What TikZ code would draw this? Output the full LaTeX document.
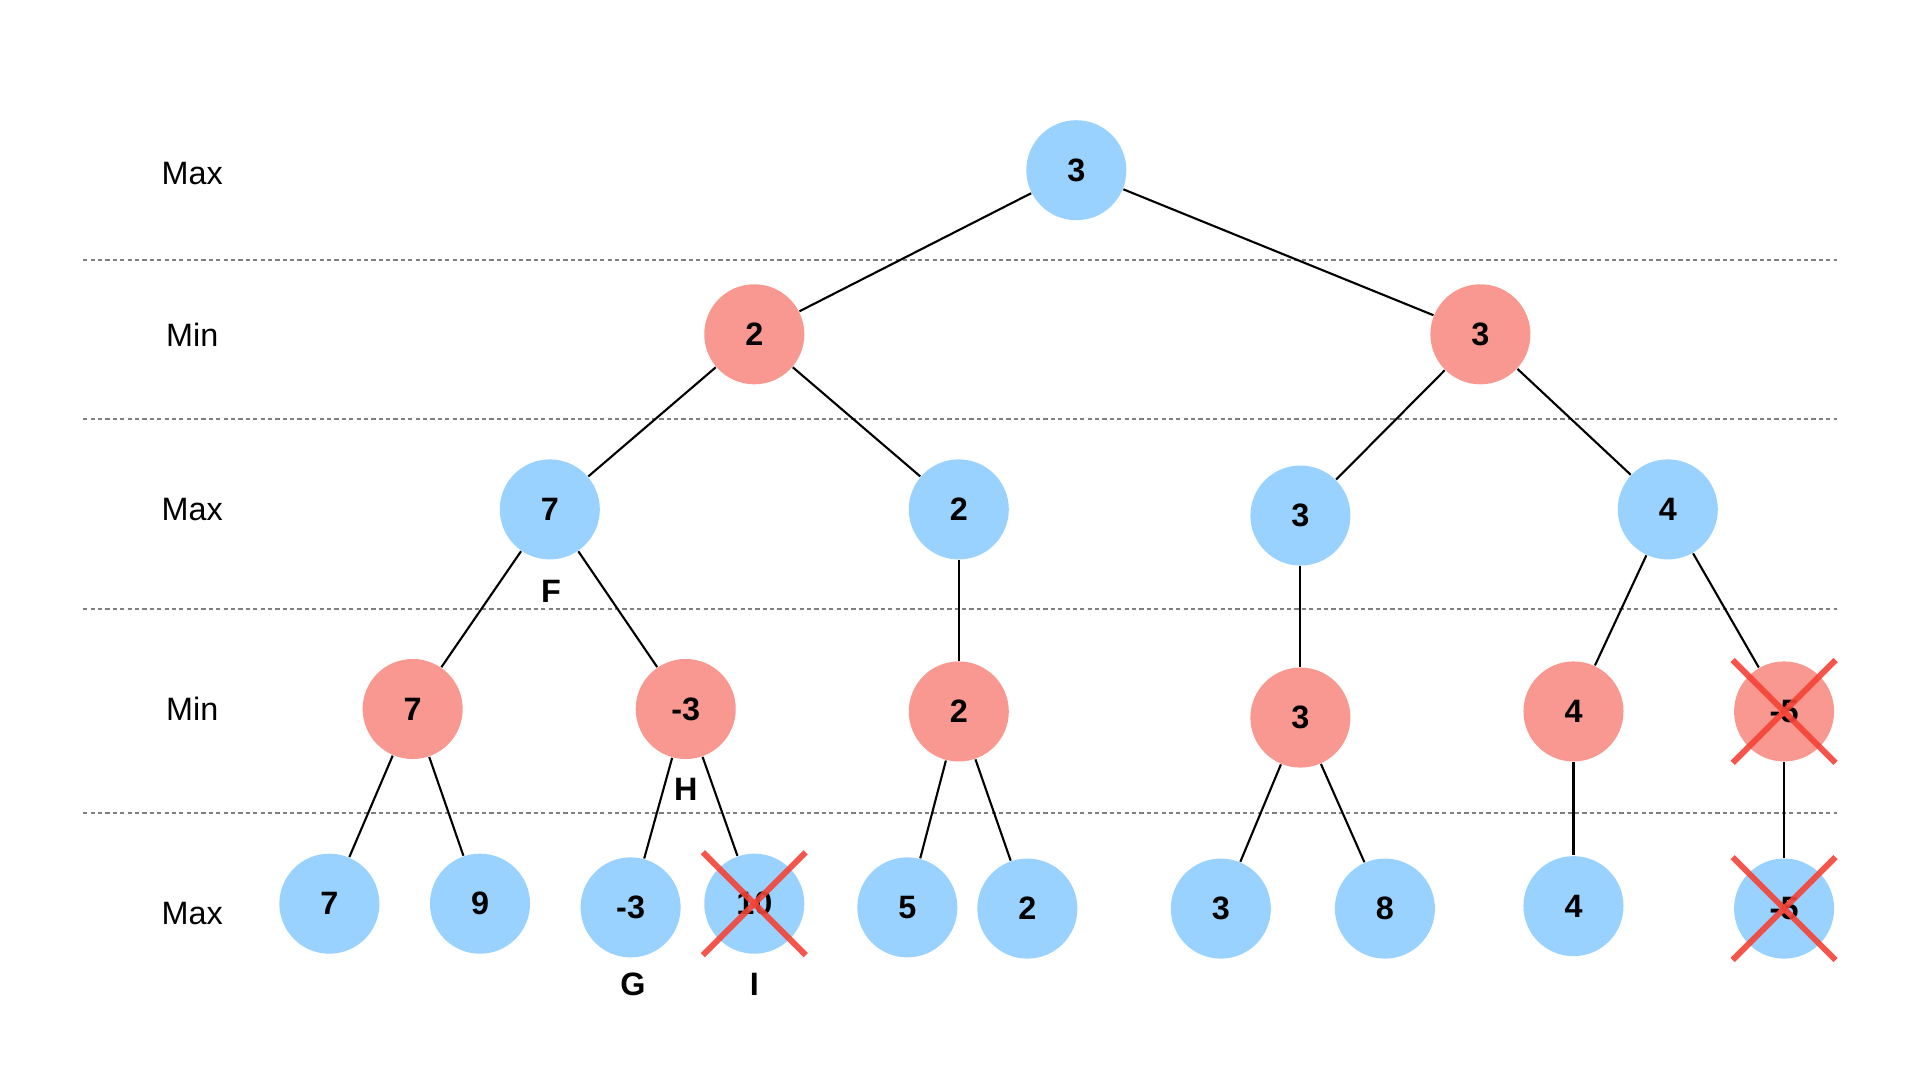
\documentclass[tikz,border=0pt]{standalone}
\usepackage{fontspec}
\setmainfont{Liberation Sans}
\usepackage{tikz}

\definecolor{maxblue}{RGB}{153,209,255}
\definecolor{minred}{RGB}{248,152,144}
\definecolor{cutred}{RGB}{244,67,54}

\tikzset{
  maxnode/.style={circle, fill=maxblue, minimum size=1cm, inner sep=0pt, font=\fontsize{9.2}{11}\selectfont\bfseries},
  minnode/.style={circle, fill=minred, minimum size=1cm, inner sep=0pt, font=\fontsize{9.2}{11}\selectfont\bfseries},
  levelname/.style={font=\fontsize{9.2}{11}\selectfont},
  tag/.style={font=\fontsize{9.2}{11}\selectfont\bfseries},
  edge/.style={line width=0.6pt},
  cut/.style={cutred, opacity=0.9, line width=1.7pt}
}

\begin{document}
\begin{tikzpicture}[x=0.012245cm, y=-0.012245cm]
  \useasboundingbox (0,0) rectangle (1568,882);

  % level separators
  \foreach \y in {212, 342, 497, 664}{
      \draw[gray, line width=0.6pt, dash pattern=on 1.2pt off 0.9pt] (68,\y) -- (1500,\y);
  }
  % level names
  \foreach \y/\t [count=\i] in {142/Max, 273/Min, 416/Max, 579/Min, 746/Max}{
      \node[levelname] (lvl\i) at (157,\y) {\t};
  }

  % root and first min level
  \node[maxnode] (root) at (879,139) {3};
  \node[minnode] (a) at (616,273) {2};
  \node[minnode] (b) at (1209,273) {3};

  % second level (max)
  \node[maxnode] (a1) at (449,416) {7};
  \node[maxnode] (a2) at (783,416) {2};
  \node[maxnode] (b1) at (1062,421) {3};
  \node[maxnode] (b2) at (1362,416) {4};

  % third level (min)
  \node[minnode] (a11) at (337,579) {7};
  \node[minnode] (a12) at (560,579) {-3};
  \node[minnode] (a21) at (783,581) {2};
  \node[minnode] (b11) at (1062,586) {3};
  \node[minnode] (b21) at (1285,581) {4};
  \node[minnode] (b22) at (1457,581) {-5};

  % leaves
  \node[maxnode] (l1) at (269,738) {7};
  \node[maxnode] (l2) at (392,738) {9};
  \node[maxnode] (l3) at (515,741) {-3};
  \node[maxnode] (l4) at (616,738) {10};
  \node[maxnode] (l5) at (741,741) {5};
  \node[maxnode] (l6) at (839,742) {2};
  \node[maxnode] (l7) at (997,742) {3};
  \node[maxnode] (l8) at (1131,742) {8};
  \node[maxnode] (l9) at (1285,740) {4};
  \node[maxnode] (l10) at (1457,742) {-5};

  % edges
  \foreach \p/\c in {root/a, root/b, a/a1, a/a2, b/b1, b/b2,
                     a1/a11, a1/a12, a2/a21, b1/b11, b2/b21, b2/b22,
                     a11/l1, a11/l2, a12/l3, a12/l4, a21/l5, a21/l6,
                     b11/l7, b11/l8, b21/l9, b22/l10}{
      \draw[edge] (\p) -- (\c);
  }

  % node tags
  \node[tag] (tagF) at (450,483) {F};
  \node[tag] (tagH) at (560,645) {H};
  \node[tag] (tagG) at (517,804) {G};
  \node[tag] (tagI) at (616,804) {I};

  % pruned nodes
  \foreach \n in {l4, b22, l10}{
      \draw[cut] ([shift={(-42,-42)}]\n.center) -- ([shift={(42,42)}]\n.center);
      \draw[cut] ([shift={(-42,42)}]\n.center) -- ([shift={(42,-42)}]\n.center);
  }
\end{tikzpicture}
\end{document}
